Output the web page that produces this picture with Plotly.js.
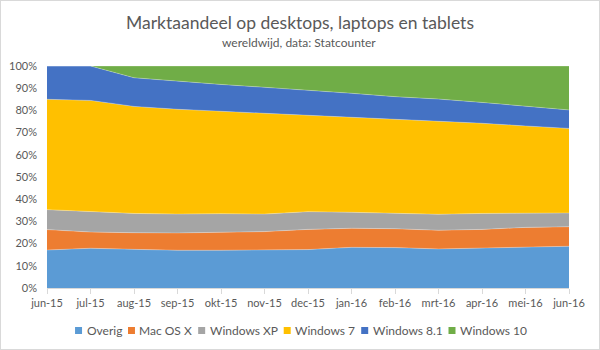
<!DOCTYPE html>
<html><head><meta charset="utf-8">
<script src="https://cdn.plot.ly/plotly-3.0.1.min.js"></script>
<style>
html,body{margin:0;padding:0;background:#fff}
#wrap{position:relative;width:600px;height:350px}
#chart{width:600px;height:350px}
#frame{position:absolute;left:0;top:0;width:598px;height:348px;border:1px solid #D9D9D9;pointer-events:none}
</style>
</head><body>
<div id="wrap"><div id="chart"></div><div id="frame"></div></div>
<script>
const months = ["jun-15","jul-15","aug-15","sep-15","okt-15","nov-15","dec-15","jan-16","feb-16","mrt-16","apr-16","mei-16","jun-16"];
const overig    = [17.1,17.9,17.4,17.0,17.0,17.0,17.3,18.3,18.2,17.6,17.9,18.2,18.8];
const macosx    = [9.2,7.3,7.5,7.8,8.1,8.4,9.1,8.6,8.5,8.4,8.5,9.1,8.8];
const windowsXP = [9.0,9.3,8.7,8.5,8.4,7.9,8.0,7.2,6.8,7.2,7.2,6.3,6.2];
const windows7  = [49.7,50.0,48.2,47.2,46.1,45.4,43.4,42.8,42.5,42.0,40.6,39.4,38.1];
const windows81 = [15.0,15.5,12.9,12.6,12.1,11.7,11.4,10.8,10.2,9.9,9.4,8.8,8.3];
const windows10 = [0,0,5.3,6.9,8.3,9.6,10.8,12.3,13.8,14.9,16.4,18.2,19.8];
const seriesNames = ["Overig","Mac OS X","Windows XP","Windows 7","Windows 8.1","Windows 10"];
const seriesValues = [overig, macosx, windowsXP, windows7, windows81, windows10];
const seriesColors = ["#5B9BD5","#ED7D31","#A5A5A5","#FFC000","#4472C4","#70AD47"];
const yTickVals = [0,10,20,30,40,50,60,70,80,90,100];
const yTickLabels = ["0%","10%","20%","30%","40%","50%","60%","70%","80%","90%","100%"];

const FONT = "Lato, 'Open Sans', sans-serif";
const TXT = "#595959";
const W = 600, H = 350;
const M = {l:47, r:31, t:66, b:62};
const PW = W - M.l - M.r, PH = H - M.t - M.b;

const traces = seriesNames.map((name, i) => ({
  type: "scatter", mode: "lines", name: name,
  x: months, y: seriesValues[i],
  stackgroup: "one",
  fillcolor: seriesColors[i],
  line: {width: 0.6, color: "rgba(255,255,255,0.45)"},
  hoverinfo: "skip", showlegend: false
}));

// manual legend, Excel-like compact
const legFontSize = 12;
const ctx = document.createElement("canvas").getContext("2d");
ctx.font = legFontSize + "px Lato";
const sq = 7, sqGap = 2.5;
const widths = seriesNames.map(n => ctx.measureText(n).width);
const spanL = 77, spanR = 526;
const itemsW = widths.reduce((a, w) => a + sq + sqGap + w, 0);
let gap = (spanR - spanL - itemsW) / (seriesNames.length - 1);
if (gap < 8) gap = 8;
const totalW = itemsW + gap * (seriesNames.length - 1);
let cx = W / 2 - totalW / 2;
const legY = 330.5;
const px2x = p => (p - M.l) / PW;
const py2y = p => (H - M.b - p) / PH;
const shapes = [], annotations = [];
seriesNames.forEach((n, i) => {
  shapes.push({type: "rect", xref: "paper", yref: "paper",
    x0: px2x(cx), x1: px2x(cx + sq), y0: py2y(legY + sq/2), y1: py2y(legY - sq/2),
    fillcolor: seriesColors[i], line: {width: 0}});
  annotations.push({xref: "paper", yref: "paper", x: px2x(cx + sq + sqGap), y: py2y(legY),
    xanchor: "left", yanchor: "middle", text: n, showarrow: false,
    font: {family: FONT, size: legFontSize, color: TXT}});
  cx += sq + sqGap + widths[i] + gap;
});
annotations.push({xref: "paper", yref: "paper", x: px2x(299), y: py2y(42.5),
  xanchor: "center", yanchor: "middle", showarrow: false,
  text: "wereldwijd, data: Statcounter",
  font: {family: FONT, size: 12, color: TXT}});

const layout = {
  width: W, height: H,
  margin: M,
  paper_bgcolor: "#fff", plot_bgcolor: "#fff",
  font: {family: FONT, color: TXT, size: 11},
  title: {text: "Marktaandeel op desktops, laptops en tablets",
    font: {family: FONT, size: 17.5, color: TXT},
    x: 0.5, xanchor: "center", xref: "container",
    y: 1 - 22.5/H, yanchor: "middle", yref: "container"},
  showlegend: false,
  xaxis: {type: "category", range: [0, 12], showgrid: false,
    showline: true, linecolor: "#D9D9D9", linewidth: 1,
    ticks: "outside", ticklen: 5, tickcolor: "#D9D9D9", tickwidth: 1,
    tickfont: {family: FONT, size: 11, color: TXT}, fixedrange: true},
  yaxis: {range: [0, 100], tickvals: yTickVals, ticktext: yTickLabels,
    showgrid: true, gridcolor: "#D9D9D9", gridwidth: 1,
    zeroline: false, showline: false, ticks: "",
    ticklabelstandoff: 9,
    tickfont: {family: FONT, size: 11, color: TXT}, fixedrange: true},
  shapes: shapes, annotations: annotations
};
Plotly.newPlot("chart", traces, layout, {staticPlot: true, displayModeBar: false});
</script>
</body></html>
